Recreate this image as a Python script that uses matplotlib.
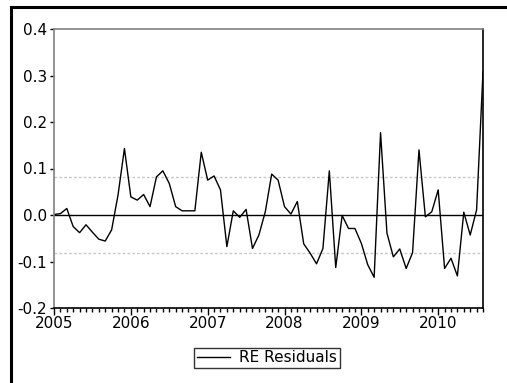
import numpy as np
import matplotlib
matplotlib.use("Agg")
import matplotlib.pyplot as plt
from matplotlib.lines import Line2D

# monthly residuals, 2005M01 .. 2010M08
resid = [0.001, 0.003, 0.014, -0.025, -0.038, -0.021, -0.037, -0.052, -0.056, -0.032,
         0.043, 0.143, 0.039, 0.032, 0.044, 0.018, 0.082, 0.095, 0.068, 0.018,
         0.009, 0.009, 0.009, 0.135, 0.075, 0.084, 0.054, -0.068, 0.009, -0.005,
         0.012, -0.072, -0.043, 0.007, 0.088, 0.075, 0.018, 0.002, 0.029, -0.062,
         -0.082, -0.105, -0.072, 0.095, -0.113, -0.001, -0.029, -0.029, -0.061, -0.107,
         -0.134, 0.177, -0.039, -0.090, -0.073, -0.115, -0.081, 0.140, -0.004, 0.007,
         0.054, -0.115, -0.093, -0.131, 0.006, -0.043, 0.011, 0.308]
years = ["2005", "2006", "2007", "2008", "2009", "2010"]
yticks = [-0.2, -0.1, 0.0, 0.1, 0.2, 0.3, 0.4]
band = 0.0825

plt.rcParams['font.family'] = 'DejaVu Sans'
fig = plt.figure(figsize=(5.07, 3.83), dpi=100)
ax = fig.add_axes([54/507, 1-308/383, 429/507, 279/383])

t = np.arange(len(resid))
ax.axhline(0, color="black", lw=1)
ax.axhline(band, color="#c8c8c8", lw=1, ls=(0, (2, 1.5)))
ax.axhline(-band, color="#c8c8c8", lw=1, ls=(0, (2, 1.5)))
line, = ax.plot(t, resid, color="black", lw=1, label="RE Residuals")

ax.set_xlim(0, len(resid)-1)
ax.set_ylim(-0.2, 0.4)
ax.set_yticks(yticks)
ax.set_yticklabels([f"{v:.1f}" for v in yticks], fontsize=11)
ax.set_xticks(np.arange(len(years))*12)
ax.set_xticklabels(years, fontsize=11)
ax.set_xticks(t, minor=True)
ax.tick_params(axis="x", which="major", length=5, width=1, direction="out", pad=1)
ax.tick_params(axis="x", which="minor", length=3, width=1, direction="out")
ax.tick_params(axis="y", length=3, width=1, direction="out", pad=2)

for s in ["left", "top"]:
    ax.spines[s].set_color("#808080")
    ax.spines[s].set_linewidth(1.2)
for s in ["right", "bottom"]:
    ax.spines[s].set_color("black")
    ax.spines[s].set_linewidth(1.2)

leg = fig.legend(handles=[line], loc="center", bbox_to_anchor=(267/507, 1-358/383),
                 fontsize=11, frameon=True, fancybox=False, handlelength=2.2,
                 handletextpad=0.6, borderpad=0.15, borderaxespad=0)
leg.get_frame().set_edgecolor("black")
leg.get_frame().set_linewidth(1)

# outer frame (left and top edges)
fig.add_artist(Line2D([11/507, 11/507], [0, 1-7/383], color="black", lw=2.2,
                      transform=fig.transFigure))
fig.add_artist(Line2D([11/507, 1], [1-7/383, 1-7/383], color="black", lw=2.2,
                      transform=fig.transFigure))

fig.savefig("out.png", dpi=100)
